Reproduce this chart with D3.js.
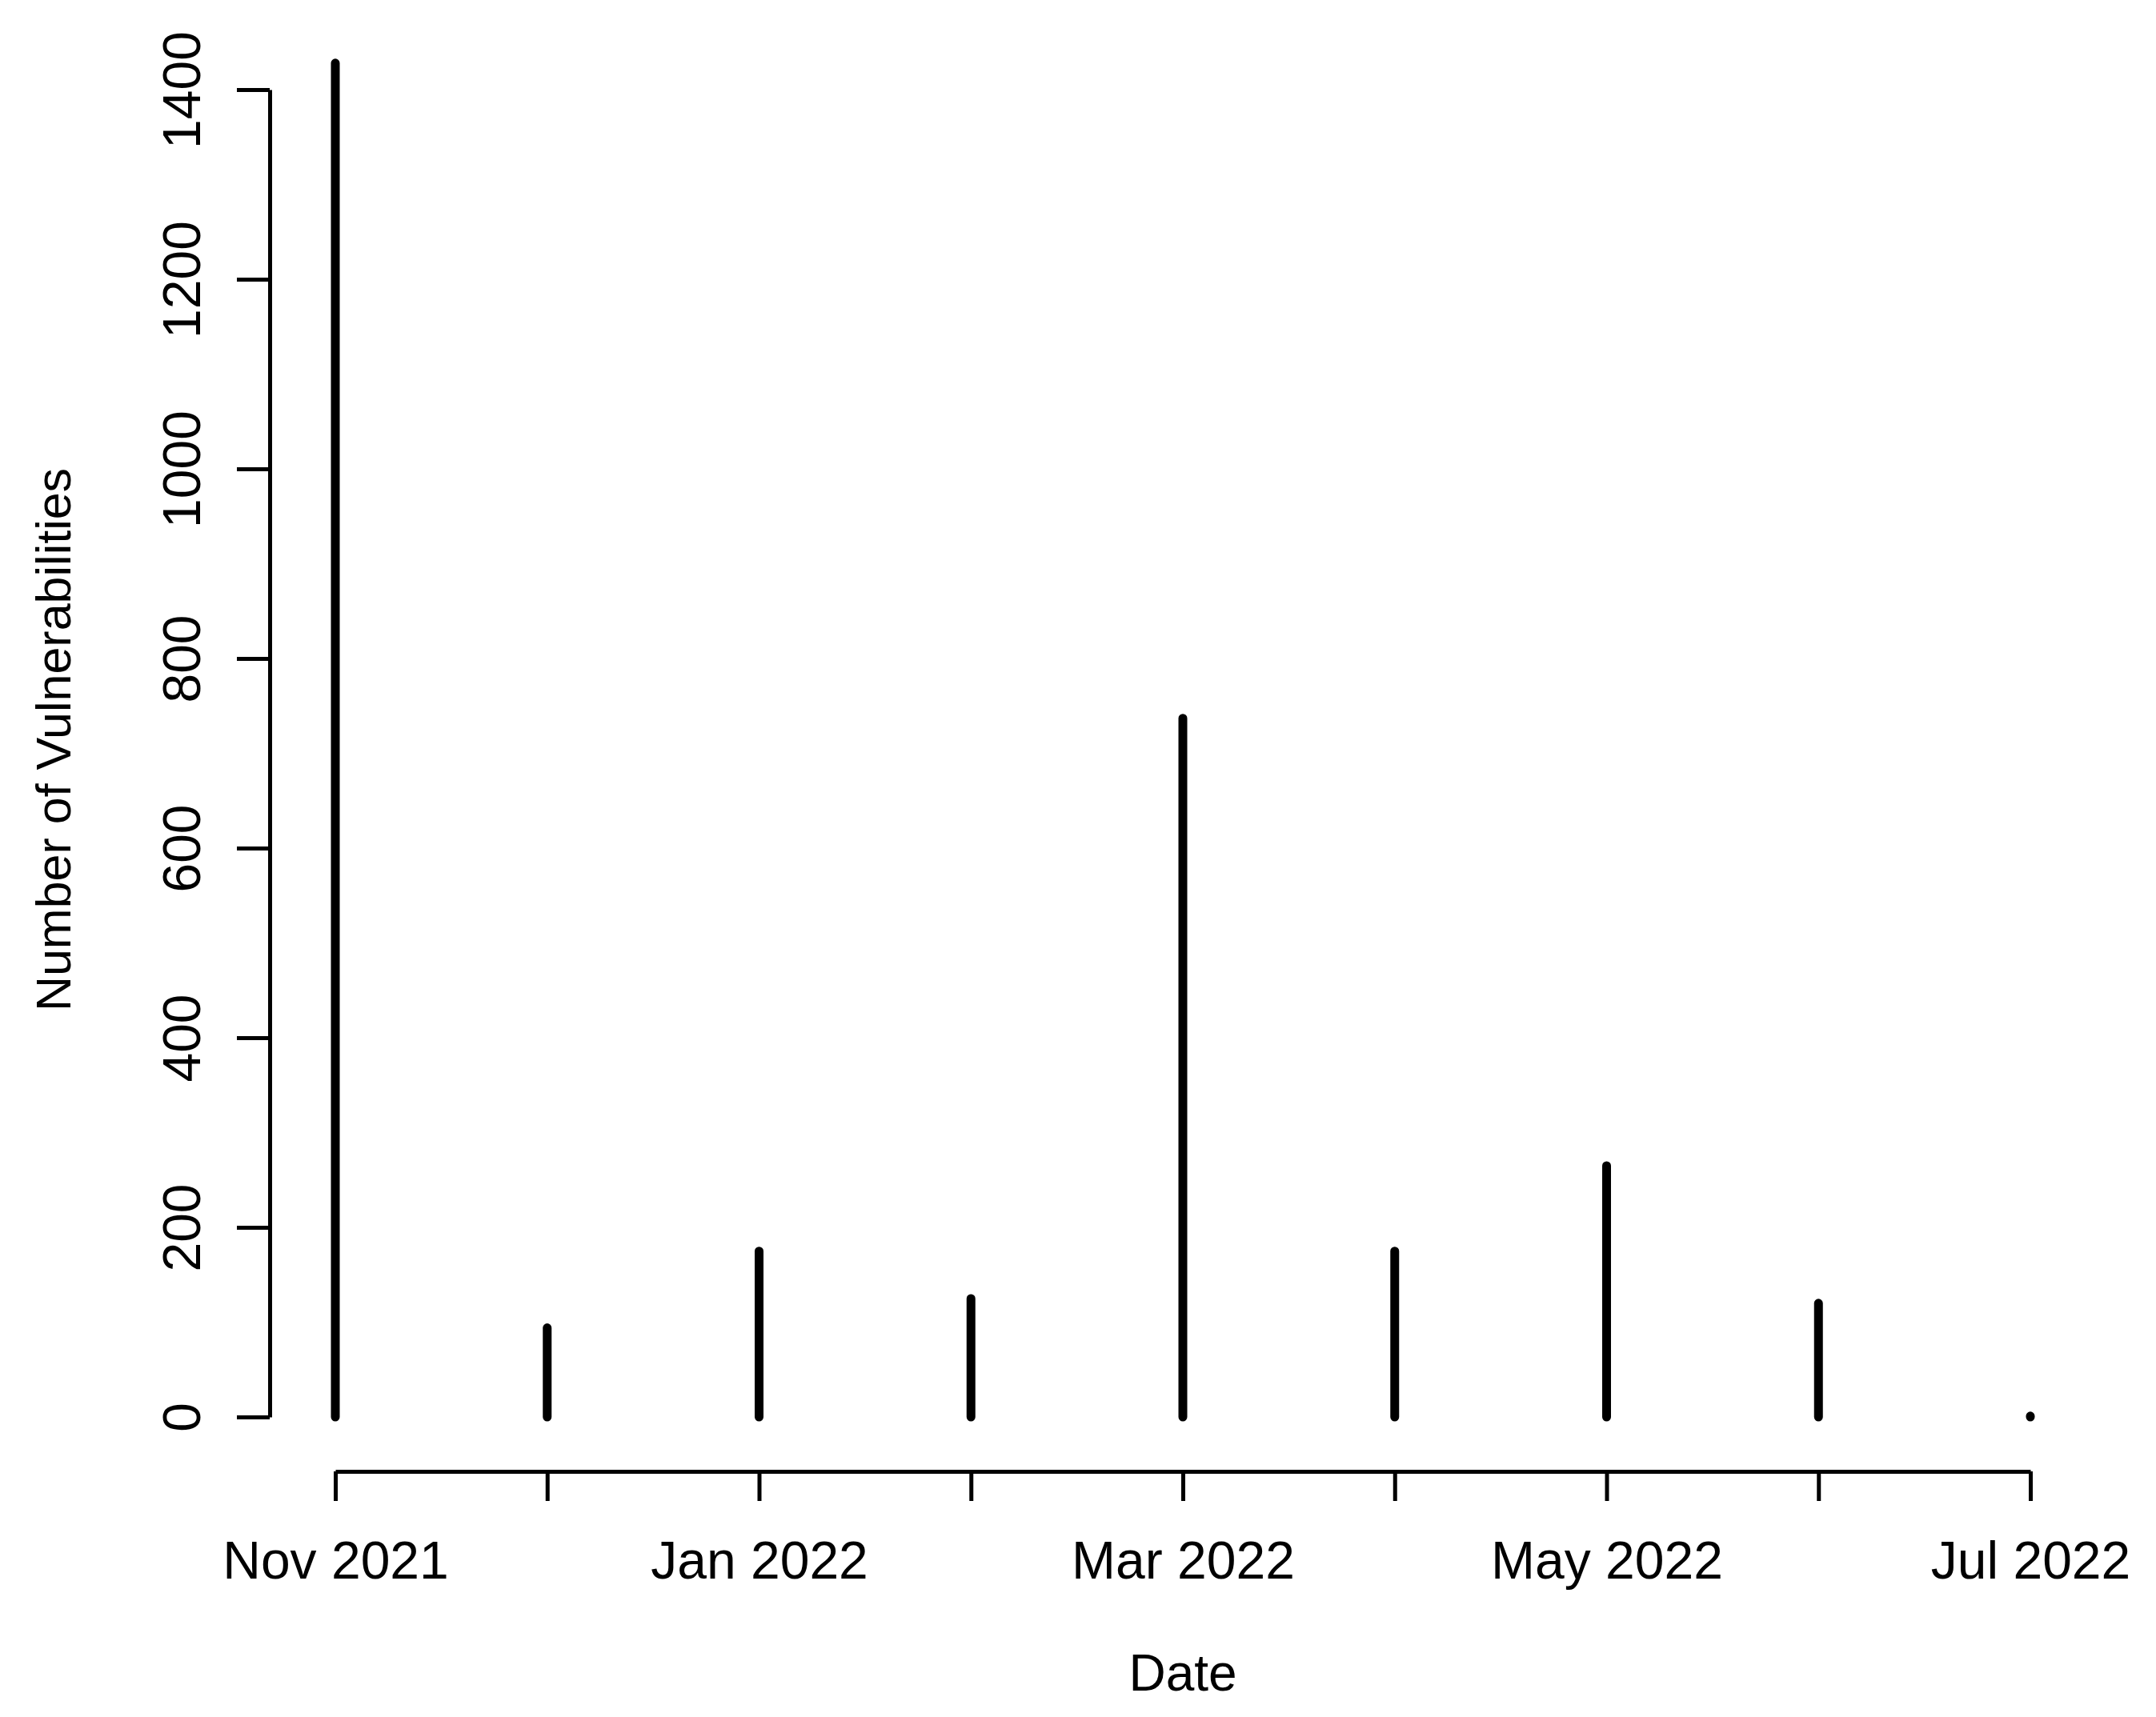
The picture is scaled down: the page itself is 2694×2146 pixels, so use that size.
<!DOCTYPE html>
<html>
<head>
<meta charset="utf-8">
<script src="https://cdn.jsdelivr.net/npm/d3@7"></script>
<style>
  body { margin: 0; background: #fff; }
  text { font-family: "Liberation Sans", Arial, Helvetica, sans-serif; fill: #000; }
</style>
</head>
<body>
<script>
// Data
var months = ["Nov 2021", "Dec 2021", "Jan 2022", "Feb 2022", "Mar 2022", "Apr 2022", "May 2022", "Jun 2022", "Jul 2022"];
var counts = [1428, 94, 175, 125, 737, 175, 265, 120, 1];
var monthLabels = ["Nov 2021", "", "Jan 2022", "", "Mar 2022", "", "May 2022", "", "Jul 2022"];
var yTicks = [0, 200, 400, 600, 800, 1000, 1200, 1400];

// SVG area
var svgWidth = 2694;
var svgHeight = 2146;

// Plot region (in page pixels)
var plot = { left: 419, right: 2537, top: 112, bottom: 1771 };
var xAxisY = 1839;
var yAxisX = 337;

var svg = d3.select("body")
  .append("svg")
  .attr("width", svgWidth)
  .attr("height", svgHeight);

var xScale = d3.scaleLinear()
  .domain([0, months.length - 1])
  .range([plot.left, plot.right]);

var yScale = d3.scaleLinear()
  .domain([0, 1400])
  .range([plot.bottom, plot.top]);

// Vertical lines (type = "h")
svg.selectAll(".spike")
  .data(counts)
  .enter()
  .append("line")
  .attr("class", "spike")
  .attr("x1", (d, i) => xScale(i))
  .attr("x2", (d, i) => xScale(i))
  .attr("y1", yScale(0))
  .attr("y2", d => yScale(d))
  .attr("stroke", "#000")
  .attr("stroke-width", 11)
  .attr("stroke-linecap", "round");

// Left axis
var leftAxis = d3.axisLeft(yScale)
  .tickValues(yTicks)
  .tickFormat(d3.format("d"))
  .tickSize(41)
  .tickSizeOuter(0);

var yAxisG = svg.append("g")
  .attr("transform", `translate(${yAxisX}, 0)`)
  .call(leftAxis);

yAxisG.select(".domain").attr("stroke-width", 5);
yAxisG.selectAll(".tick line").attr("stroke-width", 5);
yAxisG.selectAll(".tick text")
  .attr("transform", "rotate(-90)")
  .attr("x", 0)
  .attr("y", -87)
  .attr("dy", 0)
  .attr("text-anchor", "middle")
  .style("font-size", "66px")
  .style("font-family", "'Liberation Sans', Arial, sans-serif");

// Bottom axis
var bottomAxis = d3.axisBottom(xScale)
  .tickValues(d3.range(months.length))
  .tickFormat(i => monthLabels[i])
  .tickSize(37)
  .tickSizeOuter(0);

var xAxisG = svg.append("g")
  .attr("transform", `translate(0, ${xAxisY})`)
  .call(bottomAxis);

xAxisG.select(".domain").attr("stroke-width", 5);
xAxisG.selectAll(".tick line").attr("stroke-width", 5);
xAxisG.selectAll(".tick text")
  .attr("y", 134)
  .attr("dy", 0)
  .style("font-size", "66px")
  .style("font-family", "'Liberation Sans', Arial, sans-serif");

// Axis titles
svg.append("text")
  .attr("x", (plot.left + plot.right) / 2)
  .attr("y", 2113)
  .attr("text-anchor", "middle")
  .style("font-size", "64px")
  .text("Date");

svg.append("text")
  .attr("transform", `translate(88, ${(plot.top + plot.bottom) / 2 - 17}) rotate(-90)`)
  .attr("text-anchor", "middle")
  .style("font-size", "61px")
  .text("Number of Vulnerabilities");
</script>
</body>
</html>
